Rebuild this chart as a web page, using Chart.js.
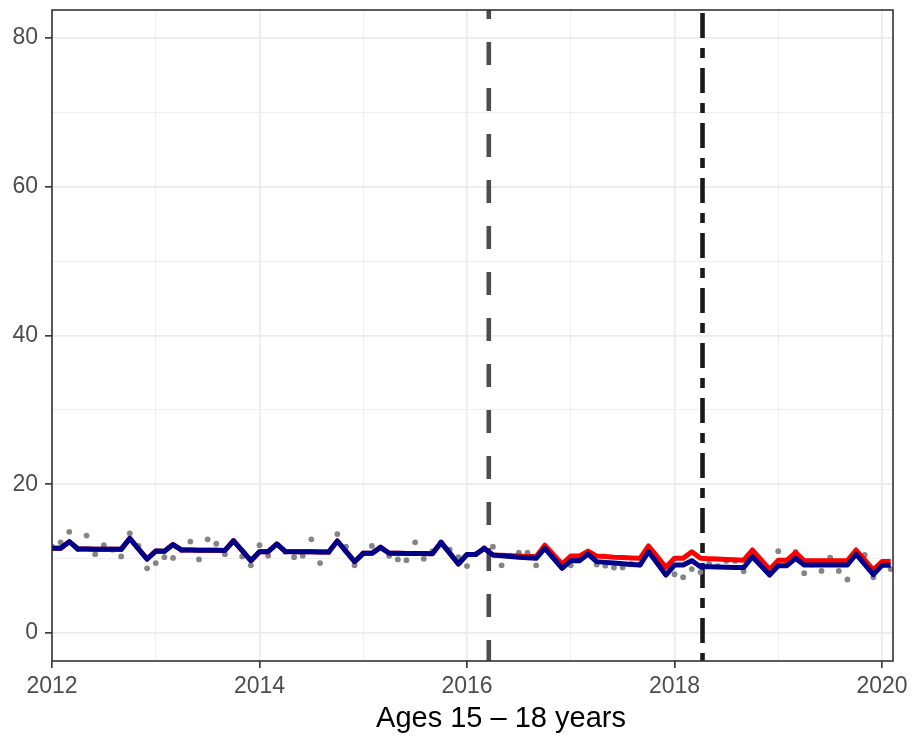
<!DOCTYPE html>
<html><head><meta charset="utf-8">
<script src="https://cdn.jsdelivr.net/npm/chart.js@4.4.0/dist/chart.umd.min.js"></script>
<style>html,body{margin:0;padding:0;background:#fff}</style>
</head><body>
<canvas id="c" width="916" height="736"></canvas>
<script>
// Monthly series, Jan 2012 .. Feb 2020
const startYear = 2012;
const observed = [
  11.6, 12.2, 13.6, 11.3, 13.1, 10.6, 11.8, 11.2, 10.3, 13.4, 11.7, 8.7,
  9.4, 10.2, 10.1, 11.2, 12.3, 9.9, 12.6, 12.0, 10.6, 12.4, 10.3, 9.1,
  11.8, 10.4, 11.9, 10.9, 10.2, 10.4, 12.6, 9.4, 10.9, 13.3, 11.6, 9.1,
  10.7, 11.7, 11.5, 10.4, 9.9, 9.8, 12.2, 10.0, 11.0, 12.2, 11.2, 10.2,
  9.0, 10.6, 11.4, 11.6, 9.1, 10.4, 10.8, 10.8, 9.1, 11.5, 10.2, 8.9,
  9.1, 10.0, 10.8, 9.2, 9.05, 8.8, 8.8, 9.3, 9.2, 11.0, 9.5, 8.0,
  7.9, 7.5, 8.6, 8.2, 9.3, 9.0, 9.7, 9.7, 8.3, 10.5, 9.2, 8.0,
  11.0, 9.5, 10.9, 8.05, 9.2, 8.35, 10.15, 8.35, 7.2, 10.8, 10.5, 7.5,
  9.2, 8.6
];
const fitted = [
  11.39, 11.39, 12.28, 11.3, 11.29, 11.28, 11.27, 11.26, 11.25, 12.73, 11.3, 9.95,
  11.02, 11.0, 11.9, 11.16, 11.15, 11.14, 11.13, 11.12, 11.11, 12.4, 11.07, 9.73,
  10.93, 10.93, 11.97, 10.95, 10.94, 10.93, 10.92, 10.91, 10.9, 12.37, 10.98, 9.59,
  10.71, 10.71, 11.52, 10.72, 10.71, 10.7, 10.69, 10.68, 10.67, 12.19, 10.74, 9.28,
  10.55, 10.55, 11.38, 10.49, 10.4, 10.3, 10.2, 10.12, 10.04, 11.38, 10.04, 8.7,
  9.73, 9.73, 10.62, 9.6, 9.5, 9.4, 9.3, 9.22, 9.14, 10.93, 9.37, 7.8,
  9.14, 9.14, 9.73, 8.92, 8.9, 8.88, 8.85, 8.82, 8.8, 10.26, 9.03, 7.8,
  9.05, 9.05, 10.04, 9.14, 9.14, 9.14, 9.14, 9.14, 9.14, 10.6, 9.22, 7.85,
  9.1, 9.1
];
const counterfactual = [
  11.39, 11.39, 12.28, 11.3, 11.29, 11.28, 11.27, 11.26, 11.25, 12.73, 11.3, 9.95,
  11.02, 11.0, 11.9, 11.16, 11.15, 11.14, 11.13, 11.12, 11.11, 12.4, 11.07, 9.73,
  10.93, 10.93, 11.97, 10.95, 10.94, 10.93, 10.92, 10.91, 10.9, 12.37, 10.98, 9.59,
  10.71, 10.71, 11.52, 10.72, 10.71, 10.7, 10.69, 10.68, 10.67, 12.19, 10.74, 9.28,
  10.55, 10.55, 11.38, 10.5, 10.45, 10.4, 10.35, 10.3, 10.28, 11.8, 10.54, 9.28,
  10.35, 10.35, 11.02, 10.35, 10.28, 10.2, 10.15, 10.1, 10.04, 11.7, 10.27, 8.83,
  10.04, 10.04, 10.93, 10.04, 10.0, 9.95, 9.9, 9.85, 9.8, 11.16, 9.86, 8.56,
  9.8, 9.8, 10.8, 9.73, 9.73, 9.73, 9.73, 9.73, 9.73, 11.16, 9.83, 8.5,
  9.62, 9.62
];
const interventions = [2016.21, 2018.27];
const xTickLabels = [2012, 2014, 2016, 2018, 2020];
const yTickLabels = [0, 20, 40, 60, 80];
const xTitle = 'Ages 15 \u2013 18 years';

const FONT = '"Liberation Sans", Arial, Helvetica, sans-serif';
const monthTime = i => startYear + i / 12;
const toPts = arr => arr.map((v, i) => ({x: monthTime(i), y: v}));

const isMajorX = v => xTickLabels.some(t => Math.abs(t - v) < 1e-6);
const isMajorY = v => yTickLabels.some(t => Math.abs(t - v) < 1e-6);

const decorPlugin = {
  id: 'decor',
  beforeDatasetsDraw(chart) {
    const {ctx, chartArea: a, scales: {x}} = chart;
    ctx.save();
    ctx.beginPath();
    ctx.rect(a.left, a.top, a.right - a.left, a.bottom - a.top);
    ctx.clip();
    const styles = [
      {color: '#4d4d4d', dash: [23, 23], width: 4.6},
      {color: '#1a1a1a', dash: [10, 10, 25, 10], width: 4.6}
    ];
    interventions.forEach((t, k) => {
      const px = x.getPixelForValue(t);
      const s = styles[k];
      ctx.strokeStyle = s.color;
      ctx.lineWidth = s.width;
      ctx.setLineDash(s.dash);
      ctx.lineDashOffset = 0;
      ctx.lineCap = 'butt';
      ctx.beginPath();
      ctx.moveTo(px, a.bottom + 2);
      ctx.lineTo(px, a.top);
      ctx.stroke();
    });
    ctx.restore();
  },
  afterDraw(chart) {
    const {ctx, chartArea: a} = chart;
    ctx.save();
    ctx.strokeStyle = '#333333';
    ctx.lineWidth = 1.6;
    ctx.setLineDash([]);
    ctx.strokeRect(a.left, a.top, a.right - a.left, a.bottom - a.top);
    ctx.fillStyle = '#000000';
    ctx.font = '29px ' + FONT;
    ctx.textAlign = 'center';
    ctx.textBaseline = 'alphabetic';
    ctx.fillText(xTitle, 501, 727);
    ctx.restore();
  }
};

new Chart(document.getElementById('c'), {
  type: 'scatter',
  data: {
    datasets: [
      {
        label: 'fitted', data: toPts(fitted), showLine: true, order: 0,
        borderColor: '#00008B', borderWidth: 5, pointRadius: 0, tension: 0,
        borderJoinStyle: 'round', fill: false
      },
      {
        label: 'counterfactual', data: toPts(counterfactual), showLine: true, order: 1,
        borderColor: '#FF0000', borderWidth: 5, pointRadius: 0, tension: 0,
        borderJoinStyle: 'round', fill: false
      },
      {
        label: 'observed', data: toPts(observed), showLine: false, order: 2,
        pointRadius: 2.9, pointBackgroundColor: '#858585', pointBorderWidth: 0
      }
    ]
  },
  options: {
    responsive: false,
    animation: false,
    devicePixelRatio: 1,
    layout: {padding: {left: 0, right: 23, top: 10, bottom: 0}},
    plugins: {legend: {display: false}, tooltip: {enabled: false}},
    scales: {
      x: {
        type: 'linear', min: 2012, max: 2020.106,
        afterFit: s => { s.height = 75; s.paddingLeft = 0; s.paddingRight = 0; },
        border: {display: false},
        grid: {
          color: '#EBEBEB',
          lineWidth: c => isMajorX(c.tick.value) ? 1.7 : 0.85,
          tickColor: c => isMajorX(c.tick.value) ? '#333333' : 'rgba(0,0,0,0)',
          tickWidth: 1.6, tickLength: 7, drawTicks: true
        },
        ticks: {
          stepSize: 1, includeBounds: false, autoSkip: false, maxRotation: 0,
          padding: 5, color: '#4d4d4d', font: {family: FONT, size: 23},
          callback: v => isMajorX(v) ? String(Math.round(v)) : ''
        }
      },
      y: {
        type: 'linear', min: -3.76, max: 83.76,
        afterFit: s => { s.width = 52; s.paddingTop = 0; s.paddingBottom = 0; },
        border: {display: false},
        grid: {
          color: '#EBEBEB',
          lineWidth: c => isMajorY(c.tick.value) ? 1.7 : 0.85,
          tickColor: c => isMajorY(c.tick.value) ? '#333333' : 'rgba(0,0,0,0)',
          tickWidth: 1.6, tickLength: 7, drawTicks: true
        },
        ticks: {
          stepSize: 10, includeBounds: false, autoSkip: false,
          padding: 7, color: '#4d4d4d', font: {family: FONT, size: 23},
          callback: v => isMajorY(v) ? String(Math.round(v)) : ''
        }
      }
    }
  },
  plugins: [decorPlugin]
});
</script>
</body></html>
